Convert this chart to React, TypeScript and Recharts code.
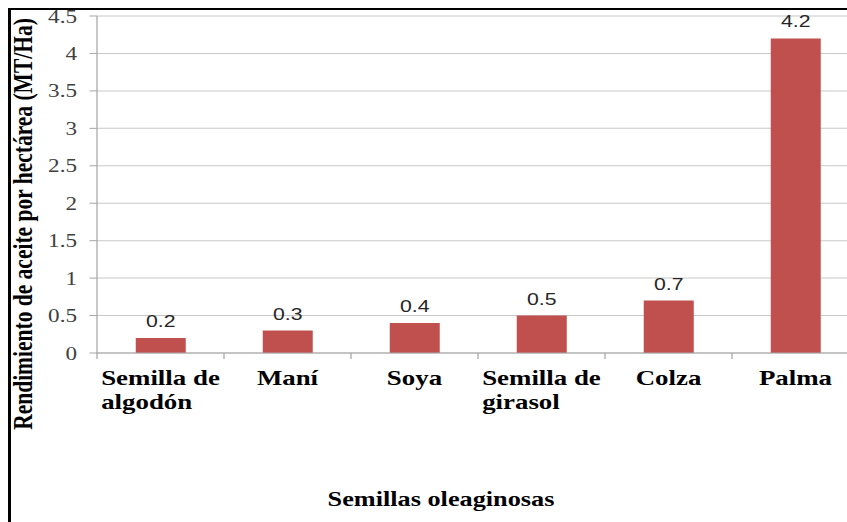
import { Bar, BarChart, CartesianGrid, Label, LabelList, XAxis, YAxis } from "recharts";

// categories, values and ticks
const categories = [
  "Semilla de\nalgodón",
  "Maní",
  "Soya",
  "Semilla de\ngirasol",
  "Colza",
  "Palma",
];
const yields = [0.2, 0.3, 0.4, 0.5, 0.7, 4.2];
const yTicks = [0, 0.5, 1, 1.5, 2, 2.5, 3, 3.5, 4, 4.5];

const yTitle = "Rendimiento de aceite por hectárea (MT/Ha)";
const xTitle = "Semillas oleaginosas";

// the source image is stretched sideways, so the chart is drawn narrow and scaled in x
const S = 1.25;
const W = 696;
const H = 522;
const Y_AXIS_W = 77.6;
const RIGHT = 8.8;
const BAND = (W - Y_AXIS_W - RIGHT) / categories.length;

const AXIS = "#a6a6a6";
const SERIF = "'Liberation Serif', 'Times New Roman', serif";
const CAT_SIZE = 21.5;
const CAT_FONT = `bold ${CAT_SIZE}px 'Liberation Serif'`;

const data = categories.map((name, i) => ({ name, value: yields[i] }));

let ctx: CanvasRenderingContext2D | null = null;
function measure(t: string) {
  if (!ctx) ctx = document.createElement("canvas").getContext("2d");
  if (!ctx) return t.length * 11;
  ctx.font = CAT_FONT;
  return ctx.measureText(t).width;
}

function CategoryTick(props: any) {
  const { x, y, payload } = props;
  const lines = String(payload.value).split("\n");
  const w = Math.max(...lines.map(measure));
  const left = x - w / 2;
  return (
    <g>
      <line x1={x - BAND / 2} x2={x - BAND / 2} y1={y} y2={y + 6} stroke={AXIS} />
      <text
        x={left}
        y={y + 32}
        fontFamily={SERIF}
        fontWeight="bold"
        fontSize={CAT_SIZE}
        fill="#000"
      >
        {lines.map((l, i) => (
          <tspan key={i} x={left} dy={i === 0 ? 0 : 24}>
            {l}
          </tspan>
        ))}
      </text>
    </g>
  );
}

export default function App() {
  return (
    <div
      style={{
        position: "absolute",
        left: 0,
        top: 0,
        width: 847,
        height: 522,
        overflow: "hidden",
        background: "#fff",
      }}
    >
      <div
        style={{
          position: "absolute",
          left: 0,
          top: 0,
          width: W,
          height: H,
          transform: `scaleX(${S})`,
          transformOrigin: "0 0",
        }}
      >
        <BarChart width={W} height={H} data={data} margin={{ top: 16, right: RIGHT, bottom: 0, left: 0 }}>
          <CartesianGrid vertical={false} stroke="#c8c8c8" />
          <XAxis
            dataKey="name"
            height={169}
            stroke={AXIS}
            tickLine={false}
            tickSize={0}
            tickMargin={0}
            interval={0}
            tick={<CategoryTick />}
          >
            <Label
              content={() => (
                <text
                  x={352.8}
                  y={506}
                  textAnchor="middle"
                  fontFamily={SERIF}
                  fontWeight="bold"
                  fontSize={21}
                  fill="#000"
                >
                  {xTitle}
                </text>
              )}
            />
          </XAxis>
          <YAxis
            width={Y_AXIS_W}
            domain={[0, 4.5]}
            ticks={yTicks}
            interval={0}
            stroke={AXIS}
            tickSize={6}
            tickMargin={10}
            tick={{ fill: "#404040", fontSize: 18.5, fontFamily: SERIF }}
          >
            <Label
              content={() => (
                <text
                  transform="translate(25.6, 224) rotate(-90)"
                  textAnchor="middle"
                  fontFamily={SERIF}
                  fontWeight="bold"
                  fontSize={21.5}
                  fill="#000"
                >
                  {yTitle}
                </text>
              )}
            />
          </YAxis>
          <Bar dataKey="value" fill="#C0504D" barSize={40} isAnimationActive={false}>
            <LabelList
              dataKey="value"
              position="top"
              offset={11}
              fill="#262626"
              fontSize={17}
              fontFamily="'Liberation Sans', Arial, sans-serif"
            />
          </Bar>
        </BarChart>
      </div>
      <div
        style={{
          position: "absolute",
          left: 8,
          top: 8,
          width: 900,
          height: 600,
          borderLeft: "3px solid #000",
          borderTop: "2px solid #000",
        }}
      />
    </div>
  );
}
